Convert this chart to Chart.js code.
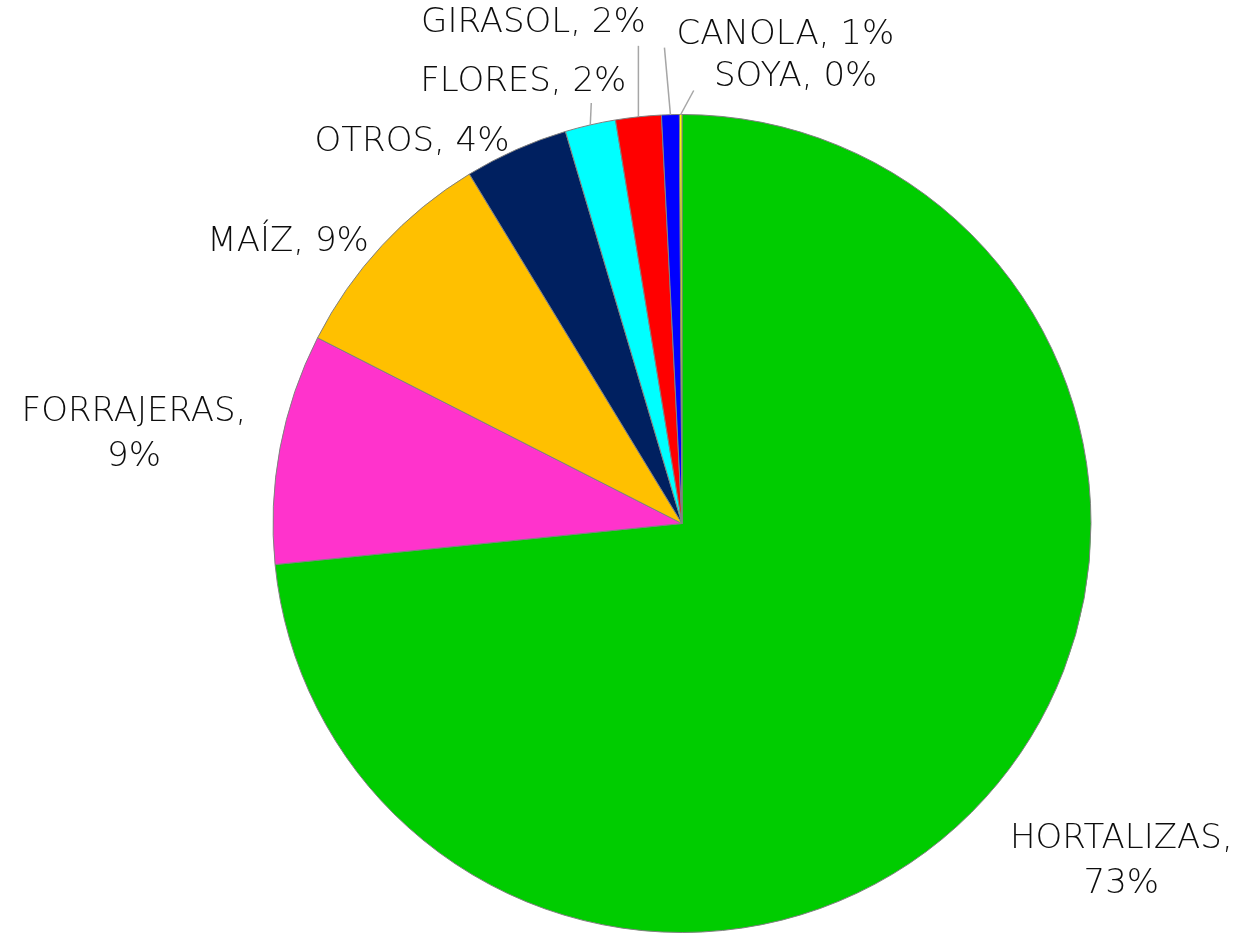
<!DOCTYPE html>
<html>
<head>
<meta charset="utf-8">
<script src="https://cdn.jsdelivr.net/npm/chart.js@4.4.0/dist/chart.umd.min.js"></script>
<style>
  html, body { margin: 0; padding: 0; background: #fff; }
  #wrap { width: 1241px; height: 933px; }
</style>
</head>
<body>
<div id="wrap"><canvas id="chart" width="1241" height="933"></canvas></div>
<script>
const categories = ["HORTALIZAS", "FORRAJERAS", "MAÍZ", "OTROS", "FLORES", "GIRASOL", "CANOLA", "SOYA"]
const shares = [73.4, 9.1, 8.8, 4.1, 2.0, 1.8, 0.7, 0.1]
const colors = ["#00CC00", "#FF33CC", "#FFC000", "#002060", "#00FFFF", "#FF0000", "#0000FF", "#FFFF00"]

// label placement relative to the middle of each slice's outer edge
// [dx, dy, twoLines, leaderEndDx, leaderEndDy] (leader end relative to label centre)
const labelLayout = [
    [136, 63, true, null, null],
    [-146, -14, true, null, null],
    [-94, -3, false, null, null],
    [-104, -8, false, null, null],
    [-67, -43, false, 68, 21],
    [-105, -94, false, 105, 23],
    [115, -79, false, -121, 12],
    [115, -37, false, -102, 13]
]

const pieLabels = {
    id: "pieLabels",
    afterDraw(chart) {
        const ctx = chart.ctx
        const meta = chart.getDatasetMeta(0)
        ctx.save()
        ctx.font = "200 34px 'DejaVu Sans'"
        ctx.fillStyle = "#0d0d0d"
        ctx.textAlign = "center"
        ctx.textBaseline = "middle"
        meta.data.forEach((arc, i) => {
            const mid = (arc.startAngle + arc.endAngle) / 2
            const px = arc.x + Math.cos(mid) * arc.outerRadius
            const py = arc.y + Math.sin(mid) * arc.outerRadius
            const lay = labelLayout[i]
            const lx = px + lay[0]
            const ly = py + lay[1]
            const pct = Math.round(shares[i]) + "%"
            if (lay[2]) {
                ctx.fillText(categories[i] + ",", lx, ly - 22)
                ctx.fillText(pct, lx, ly + 23)
            } else {
                ctx.fillText(categories[i] + ", " + pct, lx, ly)
            }
            if (lay[3] !== null) {
                ctx.strokeStyle = "#a6a6a6"
                ctx.lineWidth = 1.5
                ctx.beginPath()
                ctx.moveTo(px, py)
                ctx.lineTo(lx + lay[3], ly + lay[4])
                ctx.stroke()
            }
        })
        ctx.restore()
    }
}

const chart = new Chart("chart", {
    type: "pie",
    data: {
        labels: categories,
        datasets: [{
            data: shares,
            backgroundColor: colors,
            borderColor: "#808080",
            borderWidth: 1
        }]
    },
    options: {
        responsive: false,
        animation: false,
        layout: { padding: { left: 123, right: 0, top: 114, bottom: -2 } },
        plugins: {
            legend: { display: false },
            tooltip: { enabled: false }
        }
    },
    plugins: [pieLabels]
})
</script>
</body>
</html>
